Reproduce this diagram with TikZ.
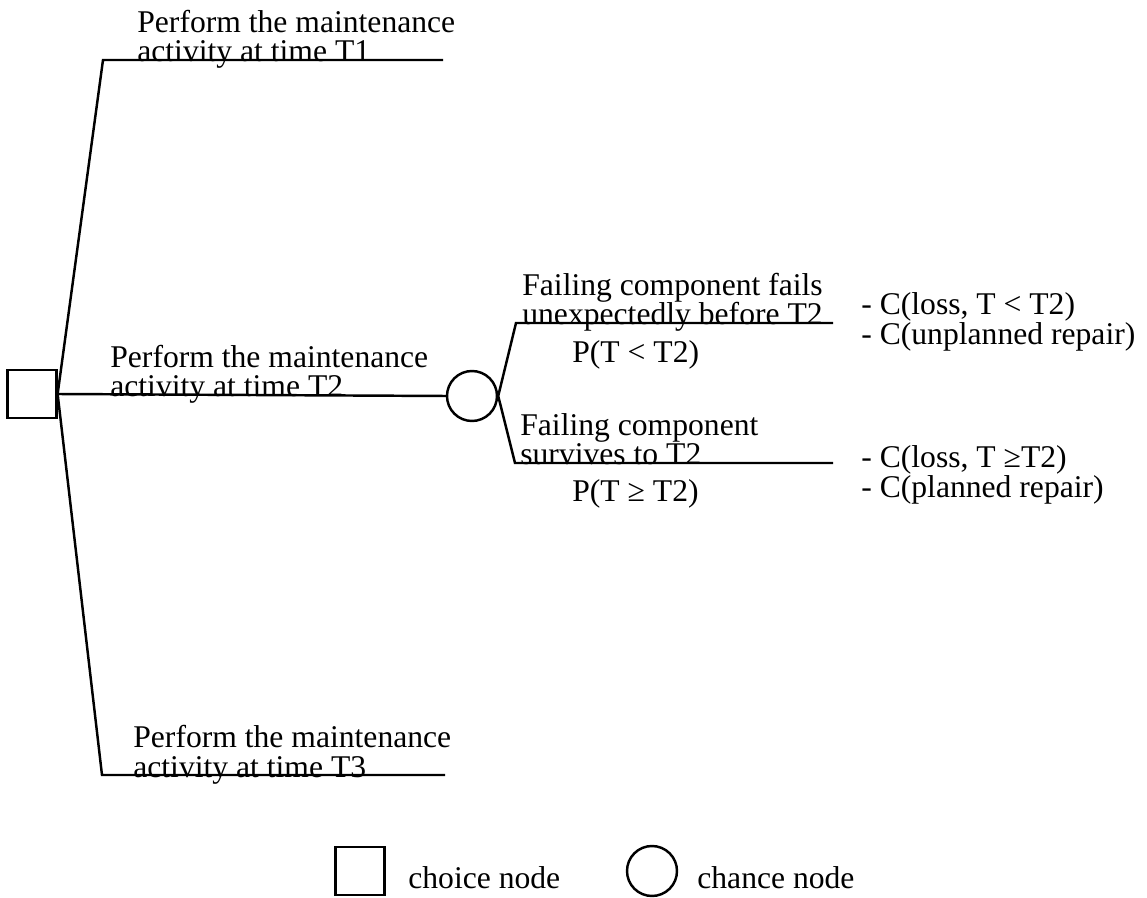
\documentclass[tikz,border=0pt]{standalone}
\usepackage{fontspec}
\setmainfont{Liberation Serif}
\usetikzlibrary{positioning}

\begin{document}
\begin{tikzpicture}[x=0.02cm, y=-0.02cm,
    branch/.style={draw=black, line width=1.4pt},
    choice/.style={draw=black, line width=1.3pt, minimum width=0.98cm, minimum height=0.96cm, inner sep=0pt},
    chance/.style={draw=black, circle, line width=1.4pt, minimum size=1cm, inner sep=0pt},
    lbl/.style={font=\fontsize{18}{17}\selectfont, align=left, anchor=base west, inner sep=0pt},
    cost/.style={lbl, font=\fontsize{18}{15.4}\selectfont}
  ]
    \useasboundingbox (0,0) rectangle (1147,898);

    \node[choice] (root) at (32,394) {};
    \node[chance] (split) at (472,396) {};

    \coordinate (t1corner) at (103,60);
    \coordinate (t1end) at (443,60);
    \coordinate (t3corner) at (102,775);
    \coordinate (t3end) at (445,775);
    \coordinate (failcorner) at (516,323);
    \coordinate (failend) at (833,323);
    \coordinate (survcorner) at (515,463);
    \coordinate (survend) at (833,463);

    \draw[branch] (root.east) -- (t1corner) -- (t1end);
    \draw[branch] (root.east) -- (split.west);
    \draw[branch] (root.east) -- (t3corner) -- (t3end);
    \draw[branch] (split.east) -- (failcorner) -- (failend);
    \draw[branch] (split.east) -- (survcorner) -- (survend);

    \node[lbl] (t1txt) at (137,62) {Perform the maintenance\\activity at time T1};
    \node[lbl] (t2txt) at (110,397) {Perform the maintenance\\activity at time T2};
    \node[lbl] (t3txt) at (133,777) {Perform the maintenance\\activity at time T3};

    \node[lbl] (failtxt) at (522,325) {Failing component fails\\unexpectedly before T2};
    \node[lbl] (survtxt) at (520,465) {Failing component\\survives to T2};
    \node[lbl] (plow) at (572,363) {P(T < T2)};
    \node[lbl] (phigh) at (572,502) {P(T ≥ T2)};

    \node[cost] (costfail) at (861,345) {- C(loss, T < T2)\\- C(unplanned repair)};
    \node[cost] (costsurv) at (861,498) {- C(loss, T ≥T2)\\- C(planned repair)};

    \node[choice] (keychoice) at (360,871) {};
    \node[lbl] (keychoicetxt) at (408,888) {choice node};
    \node[chance] (keychance) at (652,871) {};
    \node[lbl] (keychancetxt) at (697,888) {chance node};
  \end{tikzpicture}
\end{document}
